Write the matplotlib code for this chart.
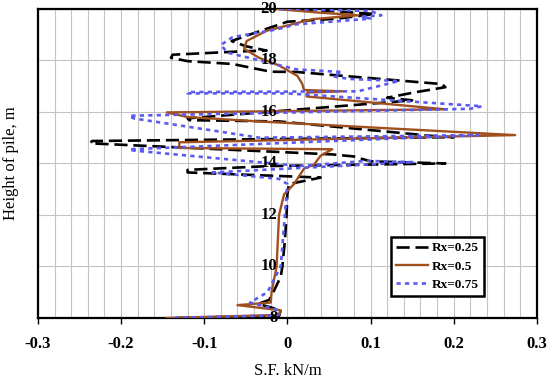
import numpy as np
import matplotlib.pyplot as plt
from matplotlib.transforms import offset_copy

## Données : effort S.F. (kN/m) en fonction de la hauteur (m)

# Rx = 0.25 (tirets noirs), du haut vers le bas
sf_025 = [-0.005, 0.06, 0.105, 0.06, 0.0, -0.05, -0.067, -0.05, -0.025, -0.055,
          -0.138, -0.14, -0.12, -0.066, -0.02, 0.011, 0.186, 0.19, 0.17, 0.155,
          0.12, 0.15, 0.12, -0.12, -0.118, -0.01, 0.18, 0.2, -0.235, -0.237,
          0.054, 0.08, 0.1, 0.19, -0.02, -0.12, -0.12, 0.04, 0.002, 0.0,
          -0.001, -0.003, -0.006, -0.008, -0.017, -0.022, -0.035, -0.008, -0.01, -0.14]
h_025 = [20.0, 19.9, 19.8, 19.62, 19.5, 18.95, 18.75, 18.55, 18.38, 18.35,
         18.22, 18.1, 17.97, 17.86, 17.56, 17.55, 17.08, 16.96, 16.85, 16.77,
         16.55, 16.45, 16.37, 15.75, 15.68, 15.63, 15.05, 15.02, 14.87, 14.78,
         14.35, 14.27, 14.08, 14.0, 13.9, 13.75, 13.65, 13.45, 13.2, 12.8,
         12.0, 11.0, 10.0, 9.6, 9.0, 8.7, 8.55, 8.3, 8.08, 8.0]

# Rx = 0.5 (trait plein marron)
sf_05 = [-0.015, 0.04, 0.085, 0.03, -0.025, -0.049, -0.052, -0.034, -0.01, 0.012,
         0.018, 0.02, 0.066, 0.024, 0.023, 0.19, -0.145, -0.12, -0.034, 0.274,
         -0.13, -0.13, 0.054, 0.04, 0.032, 0.02, 0.008, -0.004, -0.01, -0.013,
         -0.016, -0.019, -0.02, -0.06, -0.008, -0.01, -0.145]
h_05 = [20.0, 19.85, 19.75, 19.6, 19.15, 18.75, 18.45, 18.1, 17.8, 17.4,
        17.08, 16.85, 16.8, 16.75, 16.6, 16.1, 15.98, 15.8, 15.63, 15.1,
        14.82, 14.6, 14.55, 14.3, 13.95, 13.8, 13.2, 12.8, 12.0, 10.0,
        9.5, 9.0, 8.6, 8.5, 8.3, 8.12, 8.0]

# Rx = 0.75 (pointillés bleus)
sf_075 = [-0.01, 0.1, 0.113, 0.09, 0.1, 0.011, -0.013, -0.066, -0.08, -0.072,
          0.011, 0.066, 0.055, 0.074, 0.134, 0.085, -0.12, -0.12, 0.0, 0.234,
          0.22, -0.19, -0.185, -0.034, 0.23, -0.19, -0.185, 0.015, 0.095, 0.152,
          -0.09, -0.01, 0.0, -0.003, -0.008, -0.024, -0.045, -0.01, -0.012, -0.14]
h_075 = [20.0, 19.92, 19.75, 19.7, 19.62, 19.4, 19.2, 18.9, 18.6, 18.3,
         17.65, 17.55, 17.38, 17.28, 17.2, 16.8, 16.77, 16.72, 16.72, 16.22,
         16.12, 15.85, 15.75, 15.0, 15.1, 14.55, 14.5, 13.9, 14.1, 14.05,
         13.65, 13.4, 13.2, 12.0, 10.0, 9.0, 8.6, 8.3, 8.1, 8.0]

series = ["Rx=0.25", "Rx=0.5", "Rx=0.75"]
yticks = [8, 10, 12, 14, 16, 18, 20]
xticks = [-0.3, -0.2, -0.1, 0, 0.1, 0.2, 0.3]
xtick_labels = ["-0.3", "-0.2", "-0.1", "0", "0.1", "0.2", "0.3"]

plt.rcParams['font.family'] = ['Liberation Serif', 'DejaVu Serif']

fig = plt.figure(figsize=(5.5, 3.85), dpi=100)
ax = fig.add_axes([0.069, 0.174, 0.907, 0.803])

ax.plot(sf_025, h_025, color="black", lw=1.9, dashes=(5, 2.2), label=series[0], zorder=3)
ax.plot(sf_05, h_05, color="#a0501e", lw=1.7, label=series[1], zorder=4)
ax.plot(sf_075, h_075, color="#5a5af0", lw=1.9, dashes=(1.6, 1.6), label=series[2], zorder=5)

ax.set_xlim(-0.3, 0.3)
ax.set_ylim(8, 20)
ax.set_xticks(xticks)
ax.set_xticklabels(xtick_labels, fontweight="bold", fontsize=12)
ax.set_xticks(np.arange(-0.3, 0.301, 0.02), minor=True)
ax.set_yticks(yticks)
ax.set_yticklabels([])
ax.tick_params(axis="x", which="major", direction="out", length=4, width=1, pad=9)
ax.tick_params(axis="x", which="minor", length=0)
ax.tick_params(axis="y", length=0)
ax.grid(True, which="both", axis="x", color="#c4c4c4", lw=0.8)
ax.grid(True, which="major", axis="y", color="#c4c4c4", lw=0.8)
ax.set_axisbelow(True)
for s in ax.spines.values():
    s.set_linewidth(1.6)

# étiquettes de hauteur sur l'axe x = 0
trans = offset_copy(ax.transData, fig=fig, x=-10, y=0, units="dots")
for h in yticks:
    ax.text(0, h, str(h), transform=trans, ha="right", va="center",
            fontweight="bold", fontsize=12, zorder=6)

ax.set_xlabel("S.F. kN/m", fontsize=12, labelpad=8)
ax.set_ylabel("Height of pile, m", fontsize=12)
ax.yaxis.set_label_coords(-0.038, 0.5)

leg = ax.legend(loc="lower left", bbox_to_anchor=(0.707, 0.071), fancybox=False,
                edgecolor="black", framealpha=1, handlelength=2.4, handletextpad=0.3,
                borderpad=0.4, labelspacing=0.45, borderaxespad=0,
                prop={"weight": "bold", "size": 9.5})
leg.get_frame().set_linewidth(1.8)

plt.savefig("out.png", dpi=100)
